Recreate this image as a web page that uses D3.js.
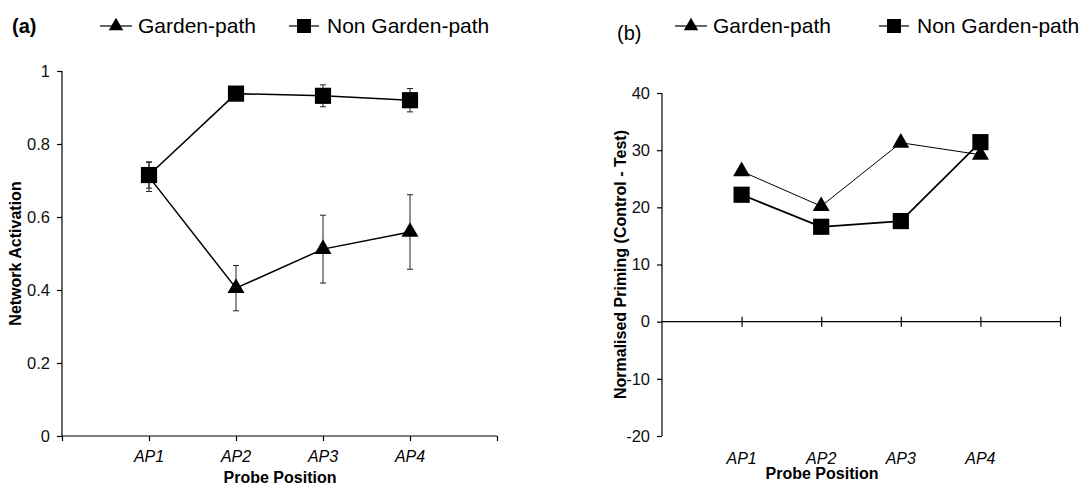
<!DOCTYPE html>
<html>
<head>
<meta charset="utf-8">
<script src="https://cdn.jsdelivr.net/npm/d3@7"></script>
<style>
  body { margin: 0; background: #fff; }
  svg { display: block; font-family: "Liberation Sans", Arial, sans-serif; }
</style>
</head>
<body>
<svg id="chart" width="1086" height="489"></svg>
<script>
// probe positions (x categories)
const probes = ["AP1", "AP2", "AP3", "AP4"];

// panel (a): network activation
const activationGarden = [0.71, 0.405, 0.512, 0.559];
const activationGardenErr = [0.04, 0.062, 0.093, 0.102];
const activationNonGarden = [0.715, 0.938, 0.932, 0.92];
const activationNonGardenErr = [0.036, 0.017, 0.03, 0.032];
const activationTicks = [0, 0.2, 0.4, 0.6, 0.8, 1];

// panel (b): normalised priming
const primingGarden = [26.3, 20.2, 31.3, 29.2];
const primingNonGarden = [22.2, 16.6, 17.6, 31.4];
const primingTicks = [-20, -10, 0, 10, 20, 30, 40];

const seriesNames = ["Garden-path", "Non Garden-path"];

const svg = d3.select("#chart");

const triangle = d3.symbol().type(d3.symbolTriangle).size(125);
const square = d3.symbol().type(d3.symbolSquare).size(262);

const legend = function (g, x0, x1, y) {
    // garden-path entry
    g.append("line").attr("x1", x0).attr("x2", x0 + 32).attr("y1", y).attr("y2", y)
        .attr("stroke", "#000").attr("stroke-width", 1.2);
    g.append("path").attr("d", d3.symbol().type(d3.symbolTriangle).size(90)())
        .attr("transform", `translate(${x0 + 16},${y})`);
    g.append("text").attr("x", x0 + 38).attr("y", y + 7).style("font-size", "21px")
        .text(seriesNames[0]);
    // non garden-path entry
    g.append("line").attr("x1", x1).attr("x2", x1 + 30).attr("y1", y).attr("y2", y)
        .attr("stroke", "#000").attr("stroke-width", 1.2);
    g.append("rect").attr("x", x1 + 8).attr("y", y - 7).attr("width", 14).attr("height", 14);
    g.append("text").attr("x", x1 + 38).attr("y", y + 7).style("font-size", "21px")
        .text(seriesNames[1]);
};

// ---------- panel (a) ----------
const a = svg.append("g");
const xA = d3.scaleLinear().domain([0, 5]).range([62, 497]);
const yA = d3.scaleLinear().domain([0, 1]).range([436, 71]);

a.append("g")
    .attr("transform", "translate(0,436)")
    .call(d3.axisBottom(xA).tickValues(d3.range(0, 6)).tickSize(5).tickFormat(""))
    .call(g => g.select(".domain").attr("d", `M${xA(0)},0H${xA(5)}`));
a.append("g")
    .attr("transform", "translate(62,0)")
    .call(d3.axisLeft(yA).tickValues(activationTicks).tickSize(5).tickPadding(7)
        .tickFormat(d => String(d)))
    .call(g => g.select(".domain").attr("d", `M0,${yA(1)}V${yA(0)}`))
    .selectAll("text").style("font-size", "16.5px").attr("fill", "#111");
a.selectAll(".domain, .tick line").attr("stroke", "#000").attr("stroke-width", 1.2);

a.selectAll(".catA").data(probes).join("text")
    .attr("x", (d, i) => xA(i + 1)).attr("y", 462)
    .attr("text-anchor", "middle").style("font-size", "16px").style("font-style", "italic")
    .text(d => d);
a.append("text").attr("x", 280).attr("y", 483).attr("text-anchor", "middle")
    .style("font-size", "16px").style("font-weight", "bold").text("Probe Position");
a.append("text").attr("transform", `translate(21,${yA(0.5)}) rotate(-90)`)
    .attr("text-anchor", "middle").style("font-size", "16px").style("font-weight", "bold")
    .text("Network Activation");
a.append("text").attr("x", 12).attr("y", 33).style("font-size", "20px").style("font-weight", "bold")
    .text("(a)");
legend(a, 100, 289, 26);

const lineA = d3.line().x((d, i) => xA(i + 1)).y(d => yA(d));

const drawA = function (vals, errs, sym) {
    const g = a.append("g");
    g.append("path").attr("d", lineA(vals)).attr("fill", "none")
        .attr("stroke", "#000").attr("stroke-width", 1.5);
    vals.forEach((v, i) => {
        const x = xA(i + 1);
        const lo = yA(v - errs[i]), hi = yA(v + errs[i]);
        g.append("line").attr("x1", x).attr("x2", x).attr("y1", lo).attr("y2", hi)
            .attr("stroke", "#222").attr("stroke-width", 1);
        [lo, hi].forEach(yy => g.append("line").attr("x1", x - 3).attr("x2", x + 3)
            .attr("y1", yy).attr("y2", yy).attr("stroke", "#222").attr("stroke-width", 1));
    });
    g.selectAll(".m").data(vals).join("path")
        .attr("d", sym()).attr("transform", (d, i) => `translate(${xA(i + 1)},${yA(d)})`);
};
drawA(activationGarden, activationGardenErr, triangle);
drawA(activationNonGarden, activationNonGardenErr, square);

// ---------- panel (b) ----------
const b = svg.append("g");
const xB = d3.scaleLinear().domain([0, 5]).range([662, 1060]);
const yB = d3.scaleLinear().domain([-20, 40]).range([436, 93]);

b.append("g")
    .attr("transform", `translate(0,${yB(0)})`)
    .call(d3.axisBottom(xB).tickValues(d3.range(1, 6)).tickSize(5).tickFormat(""))
    .call(g => g.select(".domain").attr("d", `M${xB(0)},0H${xB(5)}`))
    .call(g => g.selectAll(".tick line").attr("y1", -5).attr("y2", 5));
b.append("g")
    .attr("transform", "translate(662,0)")
    .call(d3.axisLeft(yB).tickValues(primingTicks).tickSize(5).tickPadding(7)
        .tickFormat(d => String(d)))
    .call(g => g.select(".domain").attr("d", `M0,${yB(40)}V${yB(-20)}`))
    .selectAll("text").style("font-size", "16.5px").attr("fill", "#111");
b.selectAll(".domain, .tick line").attr("stroke", "#000").attr("stroke-width", 1.2);

b.selectAll(".catB").data(probes).join("text")
    .attr("x", (d, i) => xB(i + 1)).attr("y", 464)
    .attr("text-anchor", "middle").style("font-size", "16px").style("font-style", "italic")
    .text(d => d);
b.append("text").attr("x", 822).attr("y", 479).attr("text-anchor", "middle")
    .style("font-size", "16px").style("font-weight", "bold").text("Probe Position");
b.append("text").attr("transform", `translate(626,${yB(10)}) rotate(-90)`)
    .attr("text-anchor", "middle").style("font-size", "16px").style("font-weight", "bold")
    .text("Normalised Priming (Control - Test)");
b.append("text").attr("x", 617).attr("y", 40).style("font-size", "20px").text("(b)");
legend(b, 675, 879, 26);

const lineB = d3.line().x((d, i) => xB(i + 1)).y(d => yB(d));
b.append("path").attr("d", lineB(primingGarden)).attr("fill", "none")
    .attr("stroke", "#000").attr("stroke-width", 1);
b.append("path").attr("d", lineB(primingNonGarden)).attr("fill", "none")
    .attr("stroke", "#000").attr("stroke-width", 1.7);
b.selectAll(".tri").data(primingGarden).join("path")
    .attr("d", triangle()).attr("transform", (d, i) => `translate(${xB(i + 1)},${yB(d)})`);
b.selectAll(".sq").data(primingNonGarden).join("path")
    .attr("d", square()).attr("transform", (d, i) => `translate(${xB(i + 1)},${yB(d)})`);
</script>
</body>
</html>
